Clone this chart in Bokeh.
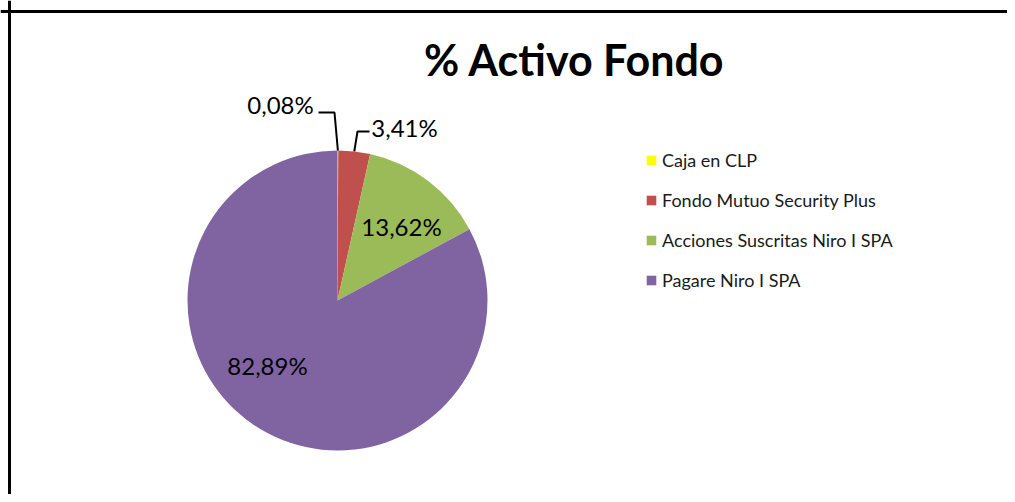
import math
from bokeh.plotting import figure
from bokeh.models import ColumnDataSource, Range1d, Span, Legend, LegendItem
from bokeh.core.properties import value
from bokeh.embed import file_html
from bokeh.resources import INLINE

# ---- data ----
categories = ["Caja en CLP", "Fondo Mutuo Security Plus",
              "Acciones Suscritas Niro I SPA", "Pagare Niro I SPA"]
percentages = [0.08, 3.41, 13.62, 82.89]
labels = ["0,08%", "3,41%", "13,62%", "82,89%"]
colors = ["#FFFF00", "#C0504D", "#9BBB59", "#8064A2"]
title_text = "% Activo Fondo"

# ---- layout ----
W, H = 1007, 494
FONT = "Lato"


def SX(sx):  # picture x (px) -> data x
    return sx


def SY(sy):  # picture y (px) -> data y
    return H - sy


cx, cy, radius = SX(337), SY(300), 150

total = sum(percentages)
starts, ends = [], []
acc = 0.0
for v in percentages:
    starts.append(math.pi / 2 - 2 * math.pi * acc / total)
    acc += v
    ends.append(math.pi / 2 - 2 * math.pi * acc / total)

src = ColumnDataSource(dict(cat=categories, val=percentages, color=colors,
                            start=starts, end=ends,
                            x=[cx] * 4, y=[cy] * 4))

p = figure(width=W, height=H, output_backend="svg", toolbar_location=None,
           x_range=Range1d(0, W), y_range=Range1d(0, H), min_border=0)
p.axis.visible = False
p.grid.visible = False
p.outline_line_color = None
p.background_fill_color = "white"
p.border_fill_color = "white"

wedges = p.wedge(x="x", y="y", radius=radius, start_angle="start", end_angle="end",
                 direction="clock", fill_color="color", line_color=None, source=src)

# label offsets relative to pie centre, in px (layout only)
lab_dx = [-57, 67, 64, -70]
lab_dy = [196, 173, 74, -65]
lab_src = ColumnDataSource(dict(x=[cx + d for d in lab_dx], y=[cy + d for d in lab_dy],
                                text=labels))
p.text(x="x", y="y", text="text", source=lab_src, text_align="center",
       text_baseline="middle", text_font=value(FONT), text_font_size="24px",
       text_color="#000000")

# leader lines for the two small slices
def rim(i):
    a = (starts[i] + ends[i]) / 2
    return cx + radius * math.cos(a), cy + radius * math.sin(a)

x0, y0 = rim(0)
x1, y1 = rim(1)
p.multi_line(xs=[[cx - 19, cx - 3, x0], [cx + 32, cx + 20, x1]],
             ys=[[cy + 188, cy + 188, y0], [cy + 169, cy + 169, y1]],
             line_color="black", line_width=2)

# title
p.text(x=[SX(574)], y=[SY(59)], text=[title_text], text_align="center",
       text_baseline="middle", text_font=value(FONT), text_font_style="bold",
       text_font_size="43px", text_color="#000000")

# frame border (left and top)
p.add_layout(Span(location=SX(9), dimension="height", line_color="black", line_width=3))
p.add_layout(Span(location=SY(11), dimension="width", line_color="black", line_width=3))

items = [LegendItem(label=categories[i], renderers=[wedges], index=i) for i in range(4)]
legend = Legend(items=items, location=(SX(645), SY(149) - 142), orientation="vertical",
                glyph_width=12, glyph_height=12, label_height=20, spacing=18,
                label_standoff=5, padding=0, margin=0,
                label_text_font=FONT, label_text_font_size="18px",
                label_text_color="#1a1a1a",
                border_line_color=None, background_fill_alpha=0)
p.add_layout(legend)

open("out.html", "w").write(file_html(p, INLINE))
